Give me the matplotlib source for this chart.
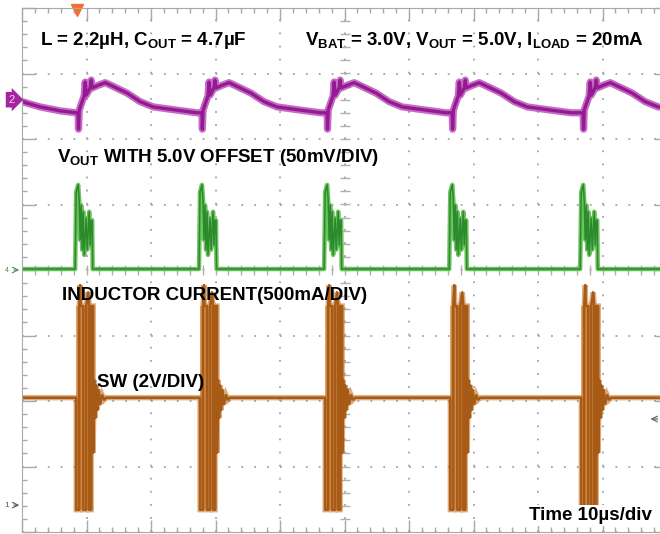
import numpy as np
import matplotlib.pyplot as plt
from matplotlib.ticker import MultipleLocator

plt.rcParams['font.family'] = ['Liberation Sans', 'DejaVu Sans']
plt.rcParams['mathtext.fontset'] = 'custom'
plt.rcParams['mathtext.rm'] = 'Liberation Sans:bold'
plt.rcParams['mathtext.it'] = 'Liberation Sans:bold'
plt.rcParams['mathtext.bf'] = 'Liberation Sans:bold'
plt.rcParams['lines.scale_dashes'] = False

# scope screen: 10 x 8 divisions, 10us/div. all values in divisions
burst_t = [0.84, 2.76, 4.70, 6.64, 8.67]      # start of each switching burst

# CH2 Vout (purple), shape after each burst
vout_dt = [0.0, 0.031, 0.036, 0.047, 0.078, 0.124, 0.140, 0.155, 0.217, 0.233, 0.248,
           0.341, 0.450, 0.558, 0.791, 0.992, 1.194, 1.566, 1.876]
vout_y = [6.40, 6.40, 6.15, 6.44, 6.53, 6.66, 6.87, 6.67, 6.78, 6.90, 6.78,
          6.82, 6.86, 6.81, 6.70, 6.57, 6.49, 6.44, 6.40]
vout_lead_t = [0.0, 0.28, 0.59]
vout_lead_y = [6.57, 6.49, 6.43]

# CH4 inductor current (green)
il_base = 4.015
il_dt = [-0.016, 0.0, 0.031, 0.047, 0.062, 0.078, 0.093, 0.109, 0.124, 0.155, 0.171,
         0.202, 0.217, 0.233, 0.248, 0.256]
il_y = [4.015, 5.19, 5.30, 5.07, 4.46, 4.99, 4.31, 4.89, 4.23, 4.79, 4.31,
        4.89, 4.38, 4.76, 4.76, 4.015]

# CH1 SW node (brown)
sw_base = 2.05
sw_low = 0.34
sw_high = 3.45
sw_dt = [0.0, 0.0, 0.047, 0.047, 0.062, 0.070, 0.109, 0.109, 0.155, 0.155, 0.186, 0.202,
         0.202, 0.233, 0.233, 0.264, 0.264, 0.279, 0.295, 0.310, 0.326, 0.349, 0.372,
         0.403, 0.434, 0.465]
sw_y = [2.05, 0.34, 0.34, 3.45, 3.77, 3.45, 3.45, 0.34, 0.34, 3.45, 3.66, 3.45,
        0.34, 0.34, 3.45, 3.45, 1.21, 2.32, 1.74, 2.24, 1.86, 2.17, 1.95,
        2.09, 2.02, 2.05]

ch_marks = {'2': 6.60, '4': 4.00, '1': 0.41}
trig_t = 0.85
trig_level = 1.725


def build(t_list, dt, y, lead_t=None, lead_y=None, tail=None):
    xs, ys = [], []
    if lead_t is not None:
        xs += list(lead_t)
        ys += list(lead_y)
    for i, t0 in enumerate(t_list):
        nxt = t_list[i + 1] if i + 1 < len(t_list) else 10.5
        for d, v in zip(dt, y):
            if t0 + d < nxt:
                xs.append(t0 + d)
                ys.append(v)
    if tail is not None:
        xs.append(10.5)
        ys.append(tail)
    return xs, ys


fig = plt.figure(figsize=(6.6, 5.34), dpi=100)
ax = fig.add_axes([22 / 660, 2 / 534, 645 / 660, 524 / 534])
ax.set_xlim(0, 10)
ax.set_ylim(0, 8)

grid_c = '#a9a9a9'
for a in (ax.xaxis, ax.yaxis):
    a.set_major_locator(MultipleLocator(1))
    a.set_minor_locator(MultipleLocator(0.2))
ax.xaxis.grid(True, color=grid_c, linestyle=(0, (1.3, 8.13)), lw=1.4)
ax.yaxis.grid(True, color=grid_c, linestyle=(0, (1.3, 7.99)), lw=1.4)
ax.tick_params(which='major', direction='in', length=9, width=1, color='#a8a8a8',
               top=True, right=True, labelbottom=False, labelleft=False)
ax.tick_params(which='minor', direction='in', length=3.5, width=1, color='#a8a8a8',
               top=True, right=True)
for s in ax.spines.values():
    s.set_color('#a8a8a8')
ax.set_axisbelow(True)

# centre cross graticule ticks
cy = np.arange(0.2, 8, 0.2)
cx = np.arange(0.2, 10, 0.2)
ax.plot(np.full_like(cy, 5), cy, ls='none', marker='_', ms=7, mew=1, color='#b0b0b0')
ax.plot(cx, np.full_like(cx, 4), ls='none', marker='|', ms=7, mew=1, color='#b0b0b0')

# SW trace
for t0 in burst_t:
    ax.fill_between([t0, t0 + 0.264], sw_low, sw_high, color='#e6b27a', lw=0)
x, y = build(burst_t, sw_dt, sw_y, [0.0], [sw_base], sw_base)
ax.plot(x, y, color='#c47226', lw=3.8, alpha=0.6, solid_joinstyle='miter')
ax.plot(x, y, color='#a85a17', lw=1.8)

# inductor current
x, y = build(burst_t, il_dt, il_y, [0.0], [il_base], il_base)
ax.plot(x, y, color='#6cc25e', lw=3.2)
ax.plot(x, y, color='#2b8a2b', lw=1.1)

# Vout
x, y = build(burst_t, vout_dt, vout_y, vout_lead_t, vout_lead_y)
ax.plot(x, y, color='#b23cb0', lw=5.2, alpha=0.75)
ax.plot(x, y, color='#951a92', lw=2.4)

# channel markers
ax.text(-0.16, ch_marks['2'], '2', ha='center', va='center', fontsize=8, color='#f8d0f4',
        bbox=dict(boxstyle='rarrow,pad=0.25', fc='#a3259f', ec='none'), clip_on=False)
ax.text(-0.24, ch_marks['4'], '4', ha='center', va='center', fontsize=5, color='#4f8a4f')
ax.annotate('', xy=(0, ch_marks['4']), xytext=(-0.17, ch_marks['4']),
            arrowprops=dict(arrowstyle='->', color='#4f8a4f', lw=0.8), annotation_clip=False)
ax.text(-0.24, ch_marks['1'], '1', ha='center', va='center', fontsize=6, color='#555555')
ax.annotate('', xy=(0, ch_marks['1']), xytext=(-0.17, ch_marks['1']),
            arrowprops=dict(arrowstyle='->', color='#555555', lw=0.8), annotation_clip=False)
ax.annotate('', xy=(9.70, trig_level), xytext=(9.90, trig_level),
            arrowprops=dict(arrowstyle='->', color='#666666', lw=0.9), annotation_clip=False)
ax.plot(trig_t, 7.97, marker='v', ms=8, color='#f07030', clip_on=False)

# labels
kw = dict(fontsize=13.5, fontweight='bold', color='black', va='baseline')
ax.text(0.28, 7.435, r'L = 2.2µH, C$_{\mathrm{OUT}}$ = 4.7µF', **kw)
ax.text(4.39, 7.435, r'V$_{\mathrm{BAT}}$ = 3.0V, V$_{\mathrm{OUT}}$ = 5.0V, I$_{\mathrm{LOAD}}$ = 20mA', **kw)
ax.text(0.54, 5.65, r'V$_{\mathrm{OUT}}$ WITH 5.0V OFFSET (50mV/DIV)', **kw)
ax.text(0.62, 3.54, 'INDUCTOR CURRENT(500mA/DIV)', **kw)
ax.text(1.16, 2.21, 'SW (2V/DIV)', **kw)
ax.text(7.86, 0.18, 'Time 10µs/div', bbox=dict(fc='white', ec='none', pad=1.5), **kw)

fig.savefig('out.png', dpi=100)
